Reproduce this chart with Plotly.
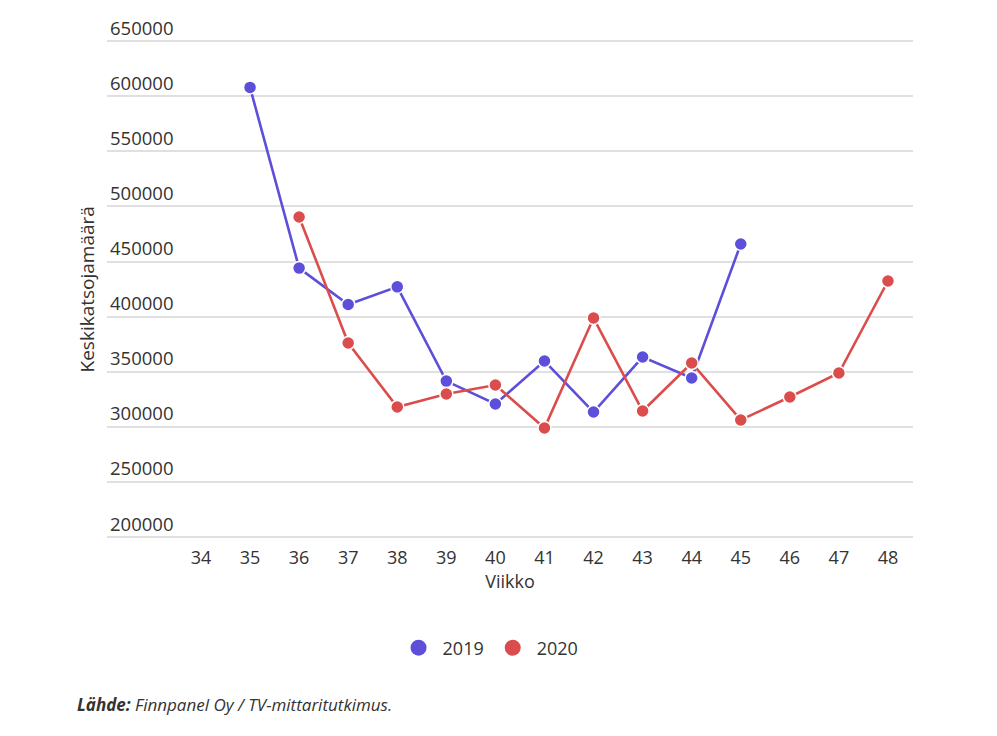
import plotly.graph_objects as go

weeks_2019 = [35, 36, 37, 38, 39, 40, 41, 42, 43, 44, 45]
values_2019 = [608000, 444000, 411000, 427000, 341500, 320700, 359700, 313400, 363300, 344300, 465900]
weeks_2020 = [36, 37, 38, 39, 40, 41, 42, 43, 44, 45, 46, 47, 48]
values_2020 = [490400, 376000, 318000, 329800, 337900, 298900, 398700, 314300, 357900, 306200, 327000, 348800, 432300]
x_ticks = list(range(34, 49))
y_ticks = [200000, 250000, 300000, 350000, 400000, 450000, 500000, 550000, 600000, 650000]

c2019 = "#5e4fdb"
c2020 = "#db4d4d"

fig = go.Figure()
for name, xs, ys, col in [("2019", weeks_2019, values_2019, c2019), ("2020", weeks_2020, values_2020, c2020)]:
    fig.add_trace(go.Scatter(x=xs, y=ys, mode="lines+markers", name=name, showlegend=False,
                             line=dict(color=col, width=2.6),
                             marker=dict(color=col, size=13, line=dict(color="white", width=1.5))))
    fig.add_trace(go.Scatter(x=[None], y=[None], mode="markers", name=name, showlegend=True,
                             marker=dict(color=col, size=20)))

fig.update_layout(
    width=989, height=728,
    paper_bgcolor="white", plot_bgcolor="white",
    margin=dict(l=99, r=84, t=0, b=196),
    font=dict(family="Open Sans", size=17, color="#333333"),
    xaxis=dict(range=[32.085, 48.51], tickvals=x_ticks, ticktext=[str(v) for v in x_ticks],
               showgrid=False, zeroline=False, showline=False, ticks="",
               ticklabelstandoff=5,
               title=dict(text="Viikko", font=dict(size=18, color="#333333"), standoff=3),
               tickfont=dict(size=18, color="#333333")),
    yaxis=dict(range=[197280, 680040], tickvals=y_ticks, ticktext=[str(v) for v in y_ticks],
               showgrid=True, gridcolor="#e0e0e0", gridwidth=1.5, zeroline=False, showline=False,
               ticks="", ticklabelposition="inside top",
               tickfont=dict(size=18.5, color="#333333")),
    legend=dict(orientation="h", x=0.474, xanchor="center", y=-0.2030, yanchor="middle",
                font=dict(size=18, color="#333333"), itemsizing="trace", itemwidth=38),
    annotations=[
        dict(text="Keskikatsojamäärä", textangle=-90, xref="paper", yref="paper",
             x=-0.0236, y=0.4709, xanchor="center", yanchor="middle", showarrow=False,
             font=dict(size=19, color="#333333")),
        dict(text="<b><i>Lähde:</i></b><i> Finnpanel Oy / TV-mittaritutkimus.</i>", xref="paper", yref="paper",
             x=-0.0397, y=-0.3083, xanchor="left", yanchor="middle", showarrow=False,
             font=dict(size=17, color="#333333")),
    ],
)

fig.write_html("out.html")
